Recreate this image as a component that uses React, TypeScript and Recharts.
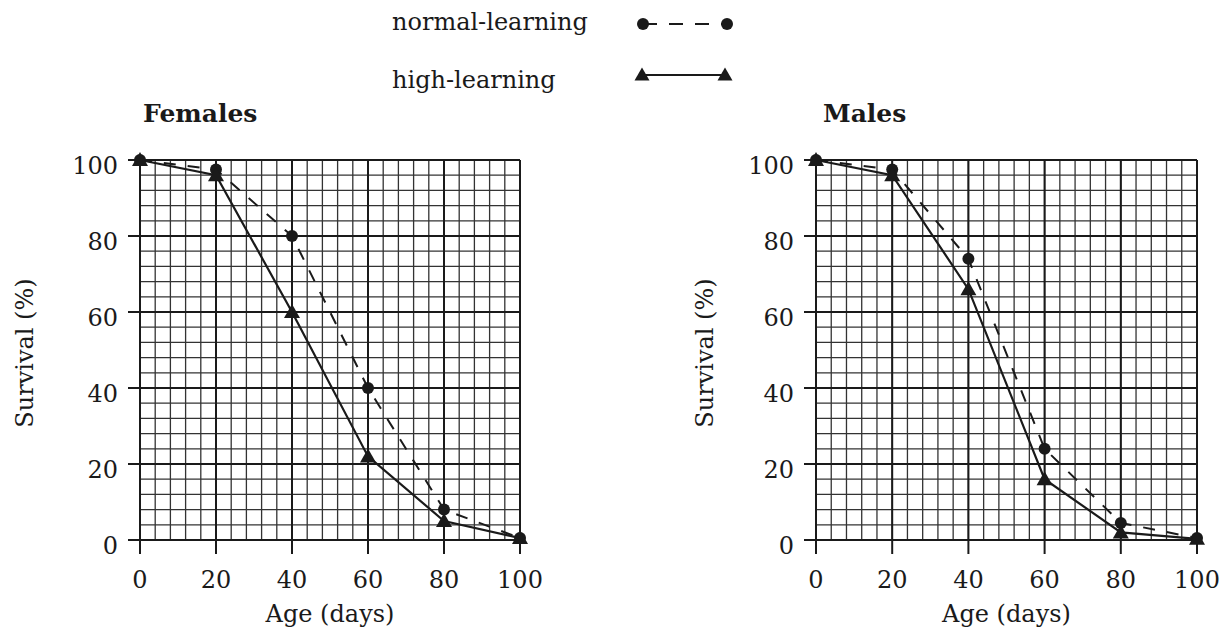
import React from 'react';
import { LineChart, Line, XAxis, YAxis, CartesianGrid, Label } from 'recharts';

// ---- data ----
const ages = [0, 20, 40, 60, 80, 100];
const femaleNormal = [100, 97.5, 80, 40, 8, 0.5];
const femaleHigh = [100, 96, 60, 22, 5, 0.5];
const maleNormal = [100, 97.5, 74, 24, 4.5, 0.5];
const maleHigh = [100, 96, 66, 16, 2, 0.3];

const majorTicks = [0, 20, 40, 60, 80, 100];
const minorTicks = [0, 4, 8, 12, 16, 20, 24, 28, 32, 36, 40, 44, 48, 52, 56, 60, 64, 68, 72, 76, 80, 84, 88, 92, 96, 100];

const seriesNames = ['normal-learning', 'high-learning'];
const panelTitles = ['Females', 'Males'];
const xAxisTitle = 'Age (days)';
const yAxisTitle = 'Survival (%)';

// ---- styles ----
const FONT = 'DejaVu Serif';
const FS = 24;
const INK = '#1a1a1a';

const CircleDot = (props: any) => {
  const { cx, cy, index } = props;
  if (cx == null || cy == null) return <g key={`c-${index}`} />;
  return <circle key={`c-${index}`} cx={cx} cy={cy} r={6} fill={INK} />;
};

const TriangleDot = (props: any) => {
  const { cx, cy, index } = props;
  if (cx == null || cy == null) return <g key={`t-${index}`} />;
  const pts = `${cx},${cy - 8} ${cx - 8},${cy + 6} ${cx + 8},${cy + 6}`;
  return <polygon key={`t-${index}`} points={pts} fill={INK} />;
};

const XTick = (props: any) => {
  const { x, y, payload } = props;
  return (
    <text x={x} y={y} dy="0.73em" textAnchor="middle" fontFamily={FONT} fontSize={FS} fill={INK}>
      {payload.value}
    </text>
  );
};

const YTick = (props: any) => {
  const { x, y, payload } = props;
  return (
    <text x={x} y={y + 5} dy="0.365em" textAnchor="end" fontFamily={FONT} fontSize={FS} fill={INK}>
      {payload.value}
    </text>
  );
};

const minorV = (p: any) => {
  const s = p?.xAxis?.scale;
  if (!s) return [];
  return minorTicks.map((v) => (typeof s === 'function' ? s(v) : s.map ? s.map(v) : 0));
};
const minorH = (p: any) => {
  const s = p?.yAxis?.scale;
  if (!s) return [];
  return minorTicks.map((v) => (typeof s === 'function' ? s(v) : s.map ? s.map(v) : 0));
};

type PanelProps = { normal: number[]; high: number[]; left: number; width: number; marginRight: number; yAxisWidth: number };

function Panel({ normal, high, left, width, marginRight, yAxisWidth }: PanelProps) {
  const data = ages.map((a, i) => ({ age: a, normal: normal[i], high: high[i] }));
  return (
    <div style={{ position: 'absolute', left, top: 0 }}>
      <LineChart width={width} height={632} data={data} margin={{ top: 160, right: marginRight, bottom: 0, left: 0 }}>
        <CartesianGrid stroke="#333" strokeWidth={1.3} verticalCoordinatesGenerator={minorV} horizontalCoordinatesGenerator={minorH} />
        <CartesianGrid stroke={INK} strokeWidth={2} />
        <XAxis dataKey="age" type="number" domain={[0, 100]} ticks={majorTicks} interval={0} height={92} tickSize={14} tickMargin={16}
          axisLine={{ stroke: INK, strokeWidth: 2 }} tickLine={{ stroke: INK, strokeWidth: 2 }} tick={<XTick />}>
          <Label content={(p: any) => {
            const vb = p.viewBox || {};
            return (
              <text x={vb.x + vb.width / 2} y={vb.y + 82} textAnchor="middle" fontFamily={FONT} fontSize={FS} fill={INK}>
                {xAxisTitle}
              </text>
            );
          }} />
        </XAxis>
        <YAxis type="number" domain={[0, 100]} ticks={majorTicks} interval={0} width={yAxisWidth} tickSize={12} tickMargin={10}
          axisLine={{ stroke: INK, strokeWidth: 2 }} tickLine={{ stroke: INK, strokeWidth: 2 }} tick={<YTick />}>
          <Label content={(p: any) => {
            const vb = p.viewBox || {};
            const cx = vb.x + 33;
            const cy = vb.y + vb.height / 2 + 3;
            return (
              <text x={cx} y={cy} transform={`rotate(-90, ${cx}, ${cy})`} textAnchor="middle" fontFamily={FONT} fontSize={FS} fill={INK}>
                {yAxisTitle}
              </text>
            );
          }} />
        </YAxis>
        <Line type="linear" dataKey="normal" name={seriesNames[0]} stroke={INK} strokeWidth={2} strokeDasharray="12 12"
          dot={(p: any) => <CircleDot {...p} key={`c-${p.index}`} />} isAnimationActive={false} />
        <Line type="linear" dataKey="high" name={seriesNames[1]} stroke={INK} strokeWidth={2.2}
          dot={(p: any) => <TriangleDot {...p} key={`t-${p.index}`} />} isAnimationActive={false} />
      </LineChart>
    </div>
  );
}

export default function App() {
  return (
    <div style={{ position: 'absolute', left: 0, top: 0, width: 1222, height: 632, background: '#fff', overflow: 'hidden' }}>
      <Panel normal={femaleNormal} high={femaleHigh} left={0} width={560} marginRight={40} yAxisWidth={140} />
      <Panel normal={maleNormal} high={maleHigh} left={680} width={542} marginRight={25} yAxisWidth={136} />
      <svg width={1222} height={632} style={{ position: 'absolute', left: 0, top: 0, pointerEvents: 'none' }}>
        {/* legend */}
        <text x={392} y={30} fontFamily={FONT} fontSize={FS} fill={INK}>{seriesNames[0]}</text>
        <line x1={643} y1={24} x2={727} y2={24} stroke={INK} strokeWidth={2} strokeDasharray="14 12" />
        <circle cx={643} cy={24} r={6} fill={INK} />
        <circle cx={727} cy={24} r={6} fill={INK} />
        <text x={392} y={88} fontFamily={FONT} fontSize={FS} fill={INK}>{seriesNames[1]}</text>
        <line x1={642} y1={75} x2={725} y2={75} stroke={INK} strokeWidth={2.2} />
        <polygon points="642,67.5 634.5,80.5 649.5,80.5" fill={INK} />
        <polygon points="725,67.5 717.5,80.5 732.5,80.5" fill={INK} />
        {/* panel titles */}
        <text x={143} y={122} fontFamily={FONT} fontSize={25} fontWeight="bold" fill={INK}>{panelTitles[0]}</text>
        <text x={823} y={122} fontFamily={FONT} fontSize={25} fontWeight="bold" fill={INK}>{panelTitles[1]}</text>
      </svg>
    </div>
  );
}
